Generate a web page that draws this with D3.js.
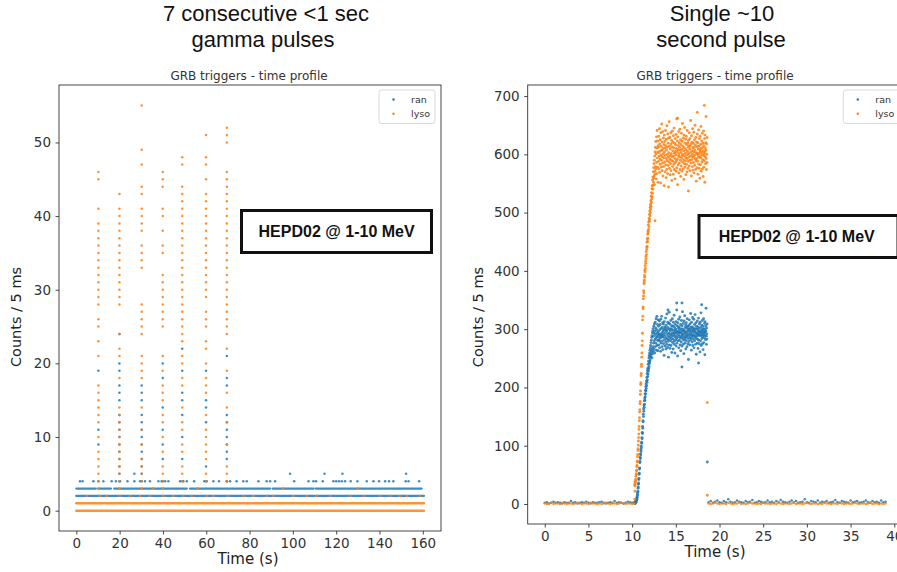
<!DOCTYPE html>
<html><head><meta charset="utf-8">
<script src="https://cdn.jsdelivr.net/npm/d3@7"></script>
<style>body{margin:0;background:#fff}svg{display:block}</style>
</head><body>
<svg id="c" width="897" height="572"></svg>
<script>
// ---------------- DATA ----------------
// Left panel: 7 consecutive pulses (counts per 5 ms)
const leftXTicks = [0,20,40,60,80,100,120,140,160];
const leftYTicks = [0,10,20,30,40,50];
const pulseTimes = [10.2, 19.9, 30.2, 39.9, 48.9, 59.9, 69.5];
const lysoPulses = [
  [46,45,41,39,38,37,36,35,34,33,32,31,30,29,28,26,25,23,21,17,16,15,14,13,12,10,8,7,6,5,4,3],
  [43,41,40,39,38,37,36,35,34,33,32,31,30,29,28,24,22,21,18,14,13,12,11,10,9,8,7,6,5,4,3],
  [55,49,47,44,43,41,40,39,38,36,35,34,33,28,27,26,25,24,21,20,19,18,14,11,9,7,6,5,4,3],
  [46,45,44,41,40,38,36,35,32,31,30,29,28,27,26,25,21,19,17,16,15,13,12,10,8,6,5,4,3],
  [48,47,44,43,42,41,40,39,38,37,36,35,34,33,32,31,30,29,28,27,26,25,24,23,21,20,18,17,14,12,11,9,8,6,5,4],
  [51,48,47,45,43,42,41,40,39,38,37,36,35,34,33,32,31,30,29,27,26,25,23,22,20,18,17,16,13,11,10,9,8,7,5,4],
  [52,51,50,46,45,44,43,42,41,40,39,38,37,36,35,34,33,32,31,30,29,28,27,26,25,24,22,19,16,14,12,9,6,5,4]
];
const ranPulses = [
  [19,11,9,4],
  [24,20,19,17,16,15,13,12,11,10,9,8,7,6,5,4],
  [17,16,15,13,12,11,10,9,8,7,6,5,4],
  [20,18,14,11,9,7,4],
  [22,19,16,15,13,10,7,4],
  [19,15,14,12,6,4],
  [21,18,17,13,12,11,10,9,8,7,4]
];
// continuous rows of counts: [count, tStart, tEnd]
const lysoRows = [[0,0,160.5],[1,0,160.5]];
const ranRows = [[2,0,160.5],[3,0,9],[3,10,16],[3,17.5,51],[3,52.5,89.5],[3,90.7,109.5],[3,110.5,159.5]];
const lysoRow2Times = [4.8,10.9,14,20.2,24.8,29.4,34,40.2,44.8,49.4,53.3,60.2,63.3,70.2,77.1,81.7,87.9,91,100.2,106.4,111,117.2,126.4,132.6,140.3,144.9,149.5,152.6,158.7];
const lysoRow3Times = [35.5,56,95.5,130];
const ranRow4Times = [1.7,2.9,7.9,12.5,16.3,18.3,20.2,23.6,26.8,29.4,31.7,34,37.9,39.4,41,42.5,47.9,49.4,51,54.4,59.1,60.2,63.3,65.9,69.5,71,74,77.1,78.7,84.1,87.9,89.5,91.8,100.6,107.2,109.5,110.7,113.8,118.7,120,121.3,122.6,124.1,126.7,129.8,134.1,137.2,139.8,142.6,144.4,146.4,152.1,153.4,158.3];
const ranRow5Times = [26.8,98.7,114.6,122.9,152.3];

// Right panel: single ~10 s pulse
const rightXTicks = [0,5,10,15,20,25,30,35,40];
const rightYTicks = [0,100,200,300,400,500,600,700];
const preStart = 0, preStep = 0.25;
const ranPre  = [2,3,1,2,4,2,3,2,1,3, 2,2,5,2,3,1,2,3,2,4, 2,1,3,2,2,3,4,2,1,2, 3,2,5,2,3,2,1,2,4,3, 2,3];
const lysoPre = [1,0,1,2,0,1,1,0,2,1, 0,1,1,0,1,2,1,0,1,1, 0,2,1,1,0,1,0,1,2,1, 0,1,1,0,1,2,1,0,1,1, 0,1];
const postStart = 18.75, postStep = 0.25;
const ranPost = [3,5,2,4,6,3,2,5,3,8, 4,2,3,6,4,3,2,5,3,4, 7,2,3,5,4,2,3,6,3,4, 2,5,3,7,4,3,2,4,6,3,
  5,2,3,4,8,3,2,5,4,3, 6,2,4,3,5,2,3,4,7,3, 2,5,4,3,2,6,3,4,5,2, 3,4,6,3,2,5,3,4,2,6, 3,4];
const lysoPost = [1,0,1,2,1,0,1,1,0,2, 1,0,1,1,2,0,1,0,1,2, 1,1,0,1,0,2,1,1,0,1, 1,0,2,1,0,1,1,0,1,2,
  0,1,1,0,1,2,1,0,1,1, 0,1,0,2,1,1,0,1,1,0, 2,1,0,1,1,0,1,2,1,0, 1,1,0,1,2,0,1,1,0,1, 0,1];
const burstStart = 10.30, burstStep = 0.02;
const lysoBurst = [
  8,22,31,35,38,42,40,47,50,52, 57,58,64,66,72,74,81,85,92,95,
  101,108,114,120,128,133,143,148,158,162, 172,176,188,194,205,208,220,224,236,240,
  252,259,272,280,293,316,322,335,338,352, 357,366,362,378,381,384,392,389,401,398,
  409,404,417,413,425,421,433,428,441,437, 449,442,455,451,463,456,468,466,479,471,
  484,476,490,485,497,488,503,494,509,500, 514,506,520,511,528,517,534,523,541,527,
  546,533,556,540,561,547,570,552,577,559, 584,563,590,548,597,571,604,566,612,579,
  622,575,601,558,630,586,611,567,641,594, 578,623,604,552,615,
  612,588,631,575,603,597,644,569,618,592,583,625,606,551,637,599,614,578,590,652,
  607,572,621,596,585,639,563,610,601,628,579,594,617,546,633,604,587,622,570,611,
  598,641,582,615,560,626,593,607,574,649,589,612,600,567,635,581,619,596,544,628,
  603,587,656,576,614,592,629,565,609,598,584,637,572,618,601,590,624,555,613,596,
  640,579,606,621,588,566,632,597,611,583,645,574,602,619,593,558,627,605,586,616,
  599,634,571,610,589,661,577,604,623,592,548,630,608,582,615,597,639,568,601,620,
  585,612,596,643,574,607,590,625,562,617,603,580,636,594,609,571,622,598,653,587,
  614,600,575,628,591,606,557,633,584,611,597,646,578,619,602,589,626,565,608,594,
  631,583,617,599,570,641,593,605,620,576,612,588,537,624,601,615,580,637,596,609,
  572,627,590,614,603,658,585,618,597,563,632,606,591,621,579,600,644,573,611,595,
  619,586,604,638,568,612,598,625,581,607,650,592,616,574,603,629,589,554,621,600,
  593,613,577,635,602,588,620,566,609,597,642,583,614,601,576,627,595,608,559,631,
  605,582,617,594,648,571,610,599,623,587,603,636,575,612,591,619,562,606,598,640,
  578,615,601,589,627,604,552,633,596,611,584,620,607,665,593,574,618,600,586,629
];
const ranBurst = [
  1,2,1,3,2,4,3,5,4,7, 6,9,8,12,11,15,17,20,22,27,
  29,34,36,42,44,51,53,60,62,71, 73,80,78,86,84,93,90,99,96,106,
  104,114,112,123,121,133,130,143,141,154, 150,163,159,170,166,177,171,182,178,189,
  184,195,189,201,194,206,198,211,203,217, 209,224,213,229,219,233,223,240,228,245,
  232,251,236,255,241,259,244,264,247,268, 252,272,255,277,258,281,262,286,251,289,
  266,294,258,297,270,301,262,288,276,305, 266,293,280,309,259,297,283,312,270,291,
  302,276,318,285,264,299,287,322,272,294, 308,281,263,316,290,
  296,281,305,273,292,287,314,268,299,284,279,308,291,262,317,289,301,276,286,322,
  294,270,303,288,280,311,265,297,290,309,275,286,300,255,313,293,282,304,271,298,
  289,319,278,302,266,307,285,296,274,326,283,299,292,269,312,279,303,288,252,310,
  293,282,329,273,300,286,309,267,297,290,280,315,272,301,292,284,306,260,299,288,
  318,277,294,305,283,266,312,290,298,279,324,274,293,303,287,259,308,295,281,300,
  289,313,271,297,284,333,276,293,306,286,254,311,296,280,302,290,317,268,294,304,
  281,299,288,321,273,295,285,308,263,301,293,278,315,287,297,271,306,290,330,283,
  300,292,274,310,286,296,258,314,281,298,289,323,276,303,293,284,307,266,295,287,
  311,280,302,291,270,318,288,296,305,275,299,284,248,306,292,301,279,316,289,297,
  273,309,285,300,294,327,282,303,290,264,312,296,286,304,278,291,320,272,299,288,
  302,283,295,317,268,299,290,308,280,296,325,287,301,274,294,311,284,257,305,292,
  288,300,276,314,293,283,304,267,297,290,319,281,301,292,275,309,289,296,261,312,
  295,280,303,289,328,272,298,291,307,284,294,315,275,300,287,305,265,296,290,318,
  277,301,293,285,310,295,256,313,289,299,282,306,296,336,288,274,302,292,283,309
];
// isolated points [t, counts]
const lysoExtra = [[12.62,486],[15.2,662],[17.46,672],[18.26,684],[18.6,174],[18.6,15],[10.28,33],[10.32,38]];
const ranExtra = [[15.1,345],[15.7,345],[17.96,342],[14.1,333],[15.7,235],[17.6,242],[18.6,72]];

const seriesNames = ["ran","lyso"];
const colors = {ran:"#1f77b4", lyso:"#ff7f0e"};

// ---------------- DRAW ----------------
const svg = d3.select("#c");
const FONT = "'DejaVu Sans', sans-serif";
const ARIAL = "'Liberation Sans', Arial, sans-serif";

const defs = svg.append("defs");

function makeAxes(id, sx, sy, xt, yt){
  const [x0,x1] = sx.range(), [y0,y1] = sy.range();
  defs.append("clipPath").attr("id",id).append("rect")
    .attr("x",x0).attr("y",y1).attr("width",x1-x0).attr("height",y0-y1);
  const g = svg.append("g");
  const xa = g.append("g").attr("transform",`translate(0,${y0})`)
    .call(d3.axisBottom(sx).tickValues(xt).tickSize(3.5).tickPadding(3.5).tickFormat(d3.format("d")));
  const ya = g.append("g").attr("transform",`translate(${x0},0)`)
    .call(d3.axisLeft(sy).tickValues(yt).tickSize(3.5).tickPadding(4.5).tickFormat(d3.format("d")));
  [xa,ya].forEach(a=>{
    a.select(".domain").remove();
    a.selectAll("line").attr("stroke","#333").attr("stroke-width",0.9);
    a.selectAll("text").attr("fill","#333").style("font-family",FONT).style("font-size","13.5px");
  });
  const plot = svg.append("g").attr("clip-path",`url(#${id})`);
  return {g, plot, frame:()=>svg.append("rect").attr("x",x0).attr("y",y1).attr("width",x1-x0).attr("height",y0-y1)
      .attr("fill","none").attr("stroke","#333").attr("stroke-width",0.9)};
}

function dots(sel, pts, sx, sy, color, r){
  sel.append("g").selectAll("circle").data(pts).join("circle")
    .attr("cx",d=>sx(d[0])).attr("cy",d=>sy(d[1])).attr("r",r||1.25)
    .attr("fill",color).attr("fill-opacity",0.85);
}
function rows(sel, rs, sx, sy, color, w){
  sel.append("g").selectAll("line").data(rs).join("line")
    .attr("x1",d=>sx(d[1])).attr("x2",d=>sx(d[2]))
    .attr("y1",d=>sy(d[0])).attr("y2",d=>sy(d[0]))
    .attr("stroke",color).attr("stroke-opacity",0.85).attr("stroke-width",w).attr("stroke-linecap","round");
}
function seq(vals, t0, dt){ return vals.map((v,i)=>[t0+i*dt, v]); }

// ---- Left panel ----
const Lx = d3.scaleLinear().domain([-8.0,168.4]).range([59,441]);
const Ly = d3.scaleLinear().domain([-2.76,57.8]).range([531,85]);
const LA = makeAxes("clipL", Lx, Ly, leftXTicks, leftYTicks);
rows(LA.plot, ranRows, Lx, Ly, colors.ran, 2.3);
dots(LA.plot, ranRow4Times.map(t=>[t,4]), Lx, Ly, colors.ran);
dots(LA.plot, ranRow5Times.map(t=>[t,5]), Lx, Ly, colors.ran);
dots(LA.plot, ranPulses.flatMap((vs,i)=>vs.map(v=>[pulseTimes[i],v])), Lx, Ly, colors.ran);
rows(LA.plot, lysoRows, Lx, Ly, colors.lyso, 2.5);
dots(LA.plot, lysoRow2Times.map(t=>[t,2]), Lx, Ly, colors.lyso);
dots(LA.plot, lysoRow3Times.map(t=>[t,3]), Lx, Ly, colors.lyso);
dots(LA.plot, lysoPulses.flatMap((vs,i)=>vs.map(v=>[pulseTimes[i],v])), Lx, Ly, colors.lyso);
LA.frame();

// ---- Right panel ----
const Rx = d3.scaleLinear().domain([-1.95,40.95]).range([527.7,902.6]);
const Ry = d3.scaleLinear().domain([-34.3,719]).range([524,85]);
const RA = makeAxes("clipR", Rx, Ry, rightXTicks, rightYTicks);
const RB = 1.45;
dots(RA.plot, seq(ranPre,preStart,preStep), Rx, Ry, colors.ran);
dots(RA.plot, seq(ranPost,postStart,postStep), Rx, Ry, colors.ran);
dots(RA.plot, seq(ranBurst,burstStart,burstStep), Rx, Ry, colors.ran, RB);
dots(RA.plot, ranExtra, Rx, Ry, colors.ran, RB);
dots(RA.plot, seq(lysoPre,preStart,preStep), Rx, Ry, colors.lyso);
dots(RA.plot, seq(lysoPost,postStart,postStep), Rx, Ry, colors.lyso);
dots(RA.plot, seq(lysoBurst,burstStart,burstStep), Rx, Ry, colors.lyso, RB);
dots(RA.plot, lysoExtra, Rx, Ry, colors.lyso, RB);
RA.frame();

// ---- Text: titles, labels ----
function txt(x,y,s,opt={}){
  const t = svg.append("text").attr("x",x).attr("y",y).text(s)
    .attr("text-anchor",opt.anchor||"middle")
    .style("font-family",opt.font||FONT).style("font-size",(opt.size||12)+"px")
    .attr("fill",opt.fill||"#222");
  if(opt.weight) t.style("font-weight",opt.weight);
  if(opt.rot) t.attr("transform",`rotate(-90,${x},${y})`);
  return t;
}
txt(266,21,"7 consecutive <1 sec",{font:ARIAL,size:22,fill:"#111"});
txt(263,47,"gamma pulses",{font:ARIAL,size:22,fill:"#111"});
txt(722,21,"Single ~10",{font:ARIAL,size:22,fill:"#111"});
txt(721,47,"second pulse",{font:ARIAL,size:22,fill:"#111"});
txt(249,79.5,"GRB triggers - time profile",{size:12,fill:"#333"});
txt(715,79.5,"GRB triggers - time profile",{size:12,fill:"#333"});
txt(248,564,"Time (s)",{size:15,fill:"#222"});
txt(715,557,"Time (s)",{size:15,fill:"#222"});
txt(21,317,"Counts / 5 ms",{size:14.5,fill:"#222",rot:true});
txt(483,317,"Counts / 5 ms",{size:14.5,fill:"#222",rot:true});

function legend(x,y,w){
  svg.append("rect").attr("x",x).attr("y",y).attr("width",w).attr("height",33.5).attr("rx",2.5)
    .attr("fill","#fff").attr("fill-opacity",0.8).attr("stroke","#d6d6d6").attr("stroke-width",0.9);
  seriesNames.forEach((n,i)=>{
    const cy = y+9.5+i*14.2;
    svg.append("circle").attr("cx",x+14.5).attr("cy",cy).attr("r",1.2).attr("fill",colors[n]);
    txt(x+32,cy+3.4,n,{anchor:"start",size:9.5,fill:"#333"});
  });
}
legend(379,90,56);
legend(843.3,90,60);

function annot(x,y,w,h,tx,ty){
  svg.append("rect").attr("x",x).attr("y",y).attr("width",w).attr("height",h)
    .attr("fill","#fff").attr("stroke","#111").attr("stroke-width",3);
  txt(tx,ty,"HEPD02 @ 1-10 MeV",{font:ARIAL,size:16,weight:"bold",fill:"#111"});
}
annot(241.5,210.5,190,42,336.6,236.7);
annot(699,215.5,199,42,796.7,241.7);
</script>
</body></html>
